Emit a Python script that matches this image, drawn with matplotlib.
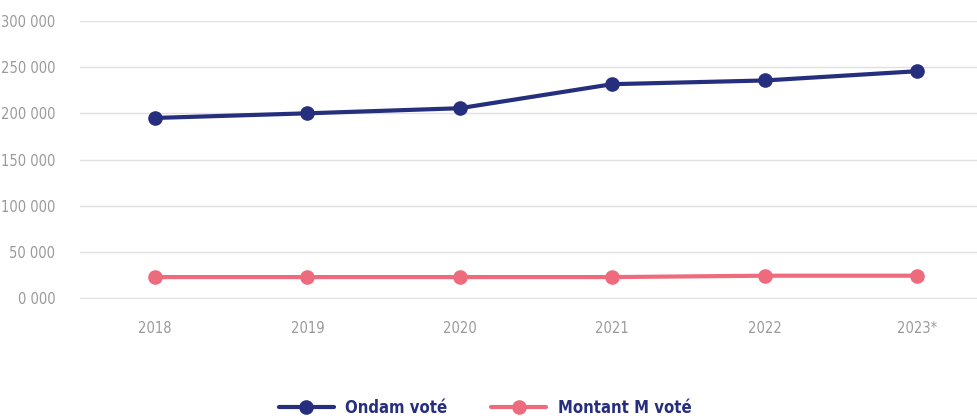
import matplotlib.pyplot as plt
from matplotlib.ticker import FuncFormatter

years = ["2018", "2019", "2020", "2021", "2022", "2023*"]
ondam = [195000, 200000, 205500, 231500, 235500, 245500]
montant_m = [23000, 23000, 23000, 23000, 24500, 24500]

navy = "#262f7e"
pink = "#ee6b7e"
grey = "#9a9a9a"

plt.rcParams['font.family'] = ['DejaVu Sans']
plt.rcParams['font.stretch'] = 'condensed'

fig = plt.figure(figsize=(9.78, 4.16), dpi=100)
ax = fig.add_axes([0.082, 0.281, 0.918, 0.669])

x = range(len(years))
ax.plot(x, ondam, color=navy, lw=3, marker='o', ms=9.5, label="Ondam voté", solid_capstyle='round')
ax.plot(x, montant_m, color=pink, lw=3, marker='o', ms=9.5, label="Montant M voté", solid_capstyle='round')

ax.set_xlim(-0.49, 5.40)
ax.set_ylim(-800, 300000)
ax.set_yticks(range(0, 300001, 50000))
ax.yaxis.set_major_formatter(FuncFormatter(lambda v, p: f"{int(v):,}".replace(",", " ") if v >= 1000 else "0 000"))
ax.set_xticks(list(x))
ax.set_xticklabels(years)

ax.grid(axis='y', color='#e0e0e0', lw=1)
ax.set_axisbelow(True)
for s in ax.spines.values():
    s.set_visible(False)
ax.tick_params(axis='both', length=0, colors=grey, labelsize=10.5)
ax.tick_params(axis='y', pad=18)
ax.tick_params(axis='x', pad=16)

leg = fig.legend(loc='lower center', bbox_to_anchor=(0.496, -0.038), ncol=2, frameon=False,
                 fontsize=12, handlelength=3.3, columnspacing=2.6, handletextpad=0.7)
for t in leg.get_texts():
    t.set_color(navy)
    t.set_fontweight('bold')

fig.savefig("out.png", dpi=100)
